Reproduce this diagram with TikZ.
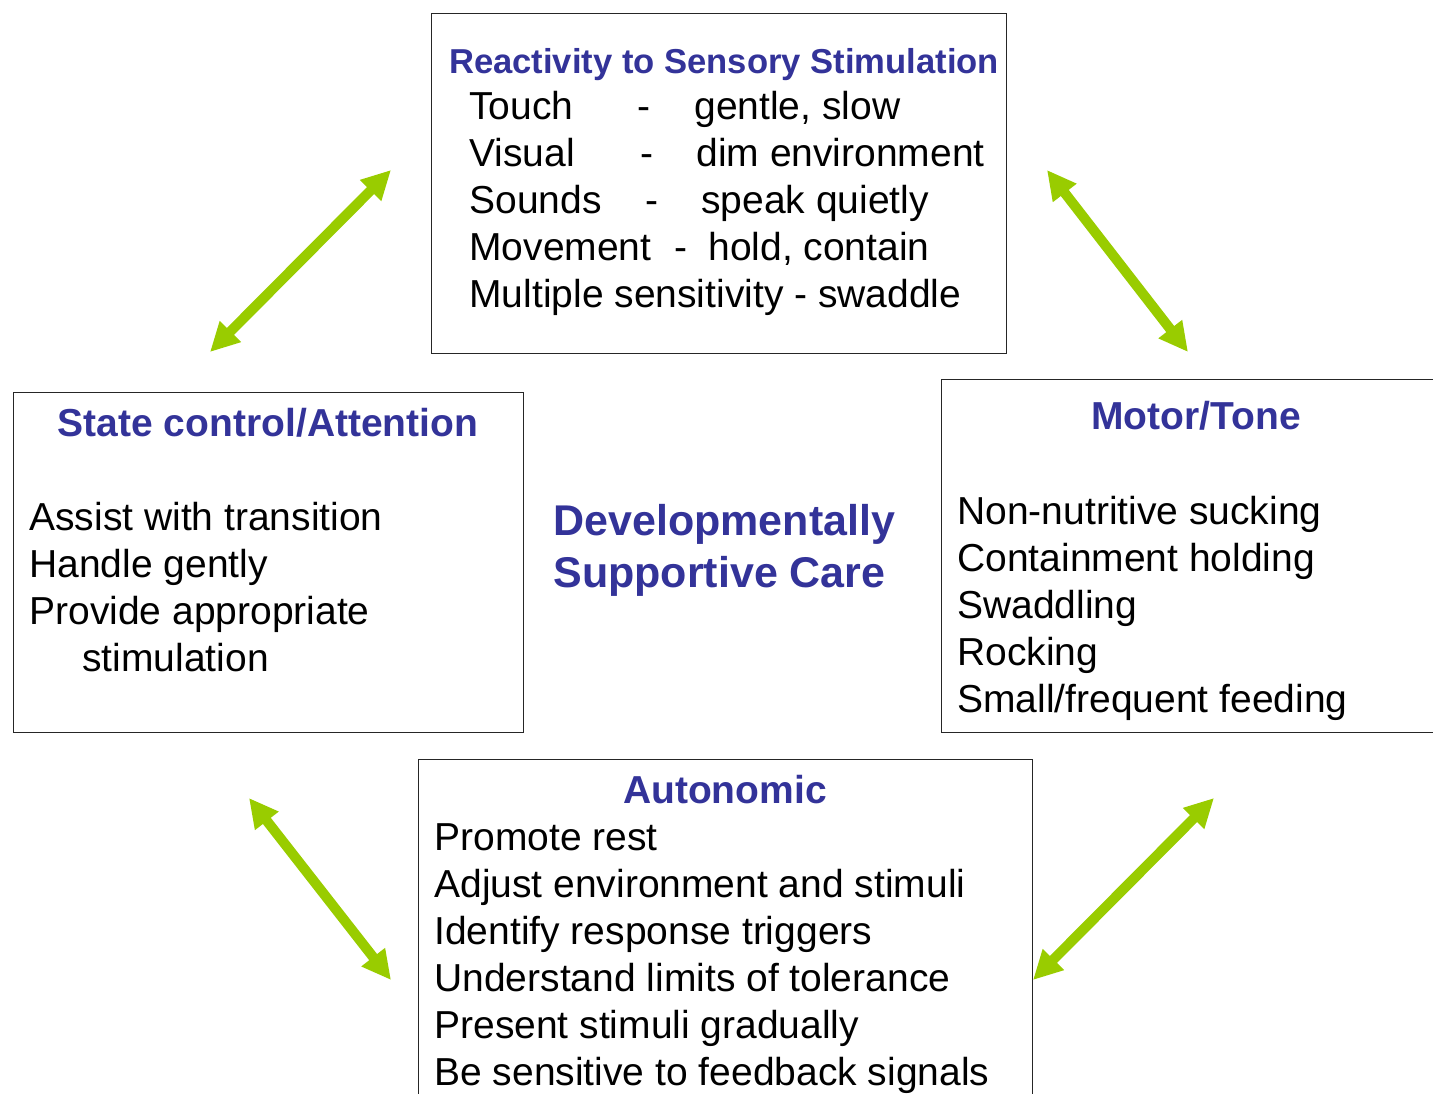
\documentclass[tikz,border=0pt]{standalone}
\usepackage{fontspec}
\setmainfont{Liberation Sans}
\usetikzlibrary{arrows.meta}

\definecolor{hdrblue}{RGB}{51,51,153}
\definecolor{linkgreen}{RGB}{153,204,0}

\tikzset{every picture/.style={line width=0.75pt}}
\tikzset{
  panel/.style={draw=black!85, line width=1.3pt, inner sep=0pt, anchor=north west},
  body/.style={anchor=base west, inner sep=0pt, font=\fontsize{39}{47}\selectfont},
  hdr/.style={anchor=base, inner sep=0pt, text=hdrblue, font=\bfseries\fontsize{39}{47}\selectfont},
  link/.style={draw=linkgreen, line width=10pt,
    {Triangle[length=29pt,width=28pt]}-{Triangle[length=29pt,width=28pt]}}
}

\begin{document}
\begin{tikzpicture}[x=1pt,y=1pt,yscale=-1]
        \useasboundingbox (0,0) rectangle (1433,1093);
        \clip (0,0) rectangle (1433,1093);

        %Shape: Rectangle [sensory]
        \node [panel, minimum width=575pt, minimum height=340pt] (sensory) at (431,13) {};
        %Shape: Rectangle [state]
        \node [panel, minimum width=510pt, minimum height=340pt] (state) at (13,392) {};
        %Shape: Rectangle [motor] (runs off the right edge)
        \node [panel, minimum width=520pt, minimum height=353pt] (motor) at (941,379) {};
        %Shape: Rectangle [autonomic] (runs off the bottom edge)
        \node [panel, minimum width=614pt, minimum height=400pt] (autonomic) at (418,759) {};

        % Text Node
        \node [hdr, font=\bfseries\fontsize{34.6}{42}\selectfont] (sensoryhdr) at (724,73) {Reactivity to Sensory Stimulation};
        \node [body] (touch) at (469,119) {Touch};
        \node [body] (touchdash) at (637,119) {-};
        \node [body] (touchcare) at (694,119) {gentle, slow};
        \node [body] (visual) at (469,166) {Visual};
        \node [body] (visualdash) at (640,166) {-};
        \node [body] (visualcare) at (696,166) {dim environment};
        \node [body] (sounds) at (469,213) {Sounds};
        \node [body] (soundsdash) at (645,213) {-};
        \node [body] (soundscare) at (701,213) {speak quietly};
        \node [body] (movement) at (469,260) {Movement};
        \node [body] (movementdash) at (674,260) {-};
        \node [body] (movementcare) at (708,260) {hold, contain};
        \node [body] (multiple) at (469,307) {Multiple sensitivity - swaddle};

        % Text Node
        \node [hdr] (statehdr) at (268,436) {State control/Attention};
        \node [body] (assist) at (29,530) {Assist with transition};
        \node [body] (handle) at (29,577) {Handle gently};
        \node [body] (provide) at (29,624) {Provide appropriate};
        \node [body] (stimul) at (82,671) {stimulation};

        % Text Node
        \node [hdr] (motorhdr) at (1196,429) {Motor/Tone};
        \node [body] (sucking) at (957,524) {Non-nutritive sucking};
        \node [body] (holding) at (957,571) {Containment holding};
        \node [body] (swaddling) at (957,618) {Swaddling};
        \node [body] (rocking) at (957,665) {Rocking};
        \node [body] (feeding) at (957,712) {Small/frequent feeding};

        % Text Node
        \node [hdr] (autohdr) at (725,803) {Autonomic};
        \node [body] (rest) at (434,850) {Promote rest};
        \node [body] (adjust) at (434,897) {Adjust environment and stimuli};
        \node [body] (triggers) at (434,944) {Identify response triggers};
        \node [body] (limits) at (434,991) {Understand limits of tolerance};
        \node [body] (gradual) at (434,1038) {Present stimuli gradually};
        \node [body] (feedback) at (434,1085) {Be sensitive to feedback signals};

        % Text Node (base is the second line)
        \node [anchor=base west, inner sep=0pt, text=hdrblue, align=left,
               font=\bfseries\fontsize{43}{52}\selectfont] (dsc) at (553,587)
               {Developmentally\\Supportive Care};

        %Straight Lines [double arrows between panels]
        \coordinate (nwlo) at (210,352);
        \coordinate (nwhi) at (391,170);
        \coordinate (nehi) at (1047,170);
        \coordinate (nelo) at (1188,352);
        \coordinate (swhi) at (249,798);
        \coordinate (swlo) at (391,980);
        \coordinate (sehi) at (1214,798);
        \coordinate (selo) at (1033,980);
        \draw [link] (nwlo) -- (nwhi);
        \draw [link] (nehi) -- (nelo);
        \draw [link] (swhi) -- (swlo);
        \draw [link] (sehi) -- (selo);

\end{tikzpicture}
\end{document}
